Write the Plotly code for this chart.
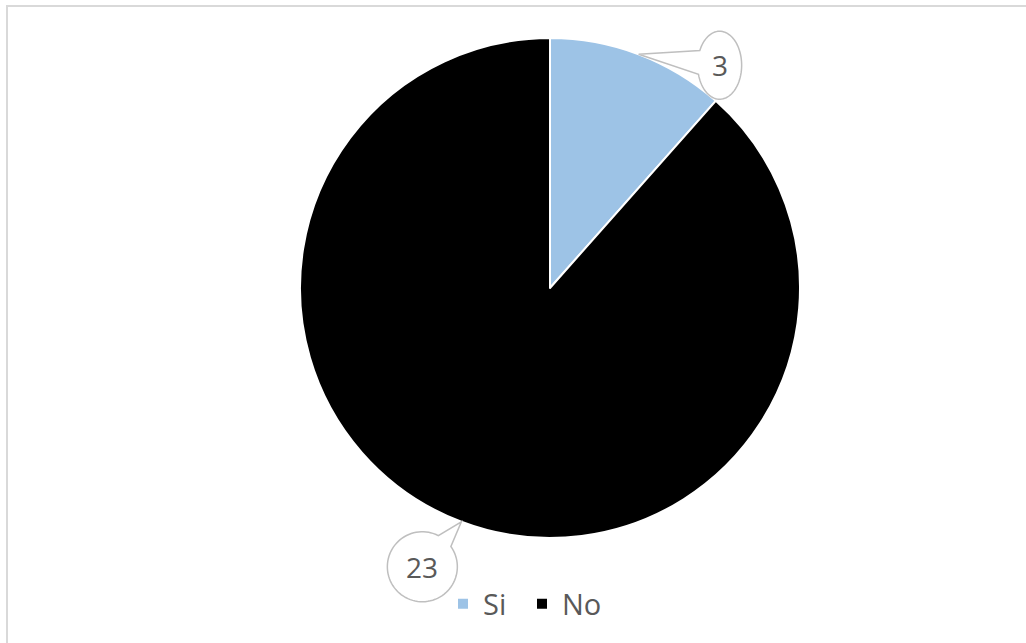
import math
import plotly.graph_objects as go

# Survey answers
labels = ["Si", "No"]
values = [3, 23]
colors = ["#9DC3E6", "#000000"]

W, H = 1026, 643
CX, CY, R = 550, 288, 250          # pie centre and radius in pixels
TEXT_COLOR = "#595959"
FONT = "Open Sans, Liberation Sans, Arial"

# callout bubble geometry per slice: offset of bubble centre from tip, radii
bubbles = [
    {"dx": 81, "dy": 11, "rx": 22, "ry": 34, "half": 0.36},
    {"dx": -39, "dy": 45, "rx": 35, "ry": 35, "half": 0.24},
]

fig = go.Figure()

fig.add_trace(go.Pie(
    labels=labels,
    values=values,
    marker=dict(colors=colors, line=dict(color="white", width=2)),
    sort=False,
    direction="clockwise",
    rotation=0,
    textinfo="none",
    hoverinfo="label+value",
    domain=dict(x=[(CX - R) / W, (CX + R) / W],
                y=[1 - (CY + R) / H, 1 - (CY - R) / H]),
))


def bubble_path(cx, cy, rx, ry, tip, half):
    """Ellipse outline with a pointed tail reaching to `tip`."""
    ang = math.atan2((tip[1] - cy) / ry, (tip[0] - cx) / rx)
    start = ang + half
    end = ang - half + 2 * math.pi
    n = 80
    pts = []
    for i in range(n + 1):
        t = start + (end - start) * i / n
        pts.append((cx + rx * math.cos(t), cy + ry * math.sin(t)))
    pts.append(tip)
    d = "M{:.2f},{:.2f}".format(*pts[0])
    for p in pts[1:]:
        d += " L{:.2f},{:.2f}".format(*p)
    return d + " Z"


total = sum(values)
cum = 0
shapes = []
annotations = []
for val, b in zip(values, bubbles):
    mid = (cum + val / 2) / total * 2 * math.pi
    cum += val
    tip = (CX + R * math.sin(mid), CY - R * math.cos(mid))
    bx, by = tip[0] + b["dx"], tip[1] + b["dy"]
    shapes.append(dict(
        type="path", xref="x", yref="y", layer="above",
        path=bubble_path(bx, by, b["rx"], b["ry"], tip, b["half"]),
        fillcolor="white", line=dict(color="#BFBFBF", width=1.5),
    ))
    annotations.append(dict(
        x=bx, y=by, xref="x", yref="y", text=str(val), showarrow=False,
        font=dict(size=28, color=TEXT_COLOR, family=FONT),
        xanchor="center", yanchor="middle",
    ))

# chart frame
shapes.append(dict(
    type="rect", xref="x", yref="y", x0=7, y0=6, x1=W + 10, y1=H + 10,
    line=dict(color="#D9D9D9", width=2), fillcolor="rgba(0,0,0,0)", layer="below",
))

fig.update_layout(
    width=W, height=H,
    margin=dict(l=0, r=0, t=0, b=0),
    paper_bgcolor="white", plot_bgcolor="white",
    xaxis=dict(range=[0, W], visible=False, fixedrange=True, domain=[0, 1]),
    yaxis=dict(range=[H, 0], visible=False, fixedrange=True, domain=[0, 1]),
    shapes=shapes,
    annotations=annotations,
    showlegend=True,
    legend=dict(
        orientation="h", x=522 / W, y=1 - 604 / H,
        xanchor="center", yanchor="middle",
        font=dict(size=29, color=TEXT_COLOR, family=FONT),
        bgcolor="rgba(0,0,0,0)", traceorder="normal",
        itemwidth=30, entrywidth=34, entrywidthmode="pixels",
    ),
)

fig.write_html("out.html")
